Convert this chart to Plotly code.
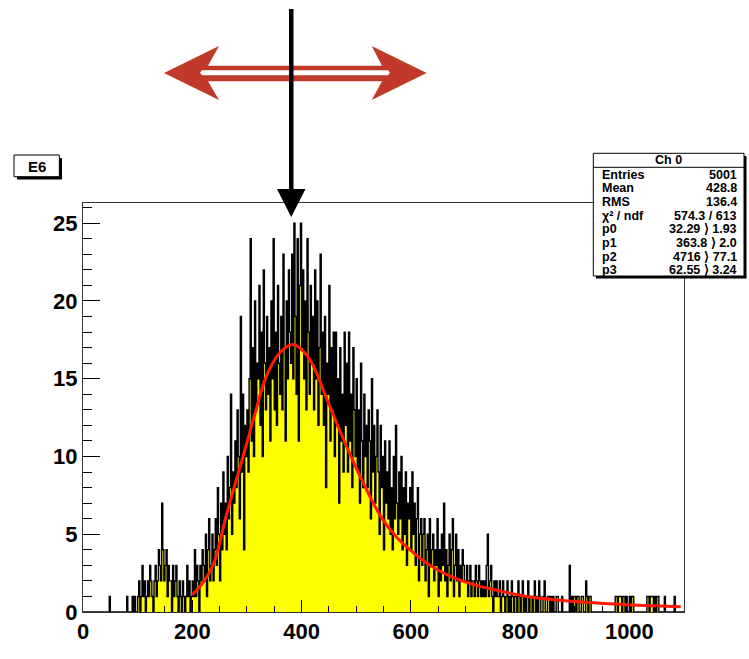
import numpy as np
import plotly.graph_objects as go

# ---------------- data ----------------
bin_width = 2
x_min, x_max = 0, 1100
counts = [
    0,0,0,0,0,0,0,0,0,0,   0,0,0,0,0,0,0,0,0,0,
    0,0,0,0,1,0,0,0,0,0,   0,0,0,0,0,0,0,0,0,0,
    1,0,0,0,0,1,0,1,0,0,   1,2,0,1,3,1,2,0,1,2,
    1,3,2,1,0,2,3,1,2,4,   3,2,7,4,2,3,4,1,3,2,
    2,0,3,1,2,3,1,0,2,1,   0,2,1,0,1,3,1,2,0,1,
    2,1,4,1,3,2,0,3,2,4,   3,2,5,1,4,6,2,3,5,2,
    4,6,3,8,5,2,7,4,9,5,   7,4,10,6,8,14,5,9,7,11,
    8,13,10,6,19,9,14,4,12,10,   13,9,15,24,11,17,10,20,13,16,
    15,21,12,18,10,22,16,13,19,14,   17,11,20,15,24,13,18,12,21,16,
    14,19,13,23,17,11,20,15,22,18,   16,23,15,25,19,14,24,11,21,25,
    17,22,15,20,13,24,18,14,21,16,   19,13,22,15,20,12,17,23,14,18,
    12,19,8,16,14,21,11,17,13,18,   10,18,12,15,7,17,11,14,9,18,
    12,16,9,18,11,14,8,17,13,10,   15,9,13,7,16,11,8,14,10,12,
    8,13,11,6,15,9,12,7,10,13,   9,5,12,8,10,4,11,7,9,6,
    11,5,8,4,10,6,12,7,5,9,   6,10,4,8,5,9,3,7,6,8,
    4,9,5,7,3,6,8,2,5,6,   3,5,6,2,4,5,1,6,3,4,
    5,2,4,3,6,1,4,2,5,3,   7,2,4,1,3,5,2,4,6,1,
    3,5,2,4,1,3,2,4,3,2,   2,3,1,2,3,1,2,2,1,3,
    2,1,3,2,1,2,1,2,1,3,   5,1,2,3,1,0,2,1,2,1,
    1,2,0,1,2,1,0,1,2,0,   1,0,2,1,0,1,1,0,2,1,
    0,1,2,0,1,0,1,2,0,1,   1,0,1,2,0,1,0,2,1,0,
    0,1,2,0,0,1,1,0,1,0,   1,0,0,1,1,0,0,0,1,0,
    0,0,0,0,0,3,0,1,0,1,   1,0,1,1,0,0,1,1,0,0,
    2,1,0,1,1,0,0,0,0,0,   0,0,0,0,0,0,0,0,0,0,
    0,0,0,0,0,0,0,1,1,0,   1,1,1,0,1,1,0,1,0,0,
    1,0,1,1,0,0,0,0,0,0,   0,0,0,0,0,0,1,1,0,1,
    1,1,0,1,0,1,1,0,0,0,   0,0,1,0,0,0,0,0,0,0,
    0,1,0,0,0,0,0,0,0,0,
]

fit_x = [200, 220, 239, 263, 288, 312, 336, 361, 385, 410, 422, 452, 483, 513,
         544, 574, 605, 635, 666, 690, 727, 751, 812, 873, 934, 995, 1056, 1094]
fit_y = [1.1, 1.9, 3.1, 6.3, 9.4, 12.4, 15.2, 16.7, 17.2, 16.5, 15.8, 13.2, 10.6, 8.3,
         6.2, 4.8, 3.8, 3.0, 2.4, 2.05, 1.65, 1.45, 1.0, 0.76, 0.59, 0.47, 0.38, 0.33]

x_ticks = [0, 200, 400, 600, 800, 1000]
y_ticks = [0, 5, 10, 15, 20, 25]

stats_title = "Ch 0"
stats_labels = ["Entries", "Mean", "RMS", "χ² / ndf", "p0", "p1", "p2", "p3"]
stats_values = ["5001", "428.8", "136.4", "574.3 / 613",
                "32.29 ⟩ 1.93", "363.8 ⟩ 2.0", "4716 ⟩ 77.1", "62.55 ⟩ 3.24"]
hist_title = "E6"

# ---------------- geometry helpers ----------------
W, H = 749, 659
L, R, T, B = 83, 684, 203, 612


def px(x):
    return (x - L) / (R - L)


def py(y):
    return (B - y) / (B - T)


def path(points):
    s = "M %f,%f " % (px(points[0][0]), py(points[0][1]))
    for p in points[1:]:
        s += "L %f,%f " % (px(p[0]), py(p[1]))
    return s + "Z"


# ---------------- traces ----------------
edges = np.arange(x_min, x_max + bin_width, bin_width)
hx = list(edges[:len(counts)]) + [edges[len(counts)]]
hy = counts + [counts[-1]]

fig = go.Figure()
fig.add_trace(go.Scatter(
    x=hx, y=hy, mode="lines",
    line=dict(shape="hv", color="black", width=1.4),
    fill="tozeroy", fillcolor="#ffff00", hoverinfo="skip", showlegend=False))
fig.add_trace(go.Scatter(
    x=fit_x, y=fit_y, mode="lines",
    line=dict(color="#ff1a00", width=3, shape="spline", smoothing=1.0),
    hoverinfo="skip", showlegend=False))

font_family = "Liberation Sans, Arial, sans-serif"

fig.update_layout(
    width=W, height=H,
    margin=dict(l=L, r=W - R, t=T, b=H - B),
    paper_bgcolor="white", plot_bgcolor="white",
    showlegend=False,
    font=dict(family=font_family, color="black"),
    xaxis=dict(range=[x_min, x_max], tickvals=x_ticks,
               ticks="inside", ticklen=12, tickwidth=1, tickcolor="black",
               minor=dict(dtick=50, ticks="inside", ticklen=6, tickcolor="black"),
               showline=True, linecolor="#333333", linewidth=1, mirror=True,
               showgrid=False, zeroline=False,
               tickfont=dict(size=22, weight="bold", family=font_family)),
    yaxis=dict(range=[0, 26.3], tickvals=y_ticks,
               ticks="inside", ticklen=17, tickwidth=1, tickcolor="black",
               minor=dict(dtick=1, ticks="inside", ticklen=9, tickcolor="black"),
               showline=True, linecolor="#333333", linewidth=1, mirror=True,
               showgrid=False, zeroline=False,
               tickfont=dict(size=22, weight="bold", family=font_family)),
)

shapes = []
# red double arrow
red = "#c0392b"
shapes.append(dict(type="path", xref="paper", yref="paper", layer="above",
                   path=path([(164, 73), (219, 46), (208, 65.7), (382, 65.7), (371.7, 46),
                              (426.7, 73), (371.7, 100), (382, 81.3), (208, 81.3), (219, 100)]),
                   fillcolor=red, line=dict(width=0)))
shapes.append(dict(type="path", xref="paper", yref="paper", layer="above",
                   path=path([(202, 70.3), (388, 70.3), (390, 72.7), (388, 75.3), (202, 75.3), (200, 72.7)]),
                   fillcolor="white", line=dict(width=0)))
# black vertical arrow
shapes.append(dict(type="path", xref="paper", yref="paper", layer="above",
                   path=path([(289, 9), (293.5, 9), (293.5, 192), (289, 192)]),
                   fillcolor="black", line=dict(width=0)))
shapes.append(dict(type="path", xref="paper", yref="paper", layer="above",
                   path=path([(277, 189), (305.5, 189), (291.2, 217)]),
                   fillcolor="black", line=dict(width=0)))
# E6 title box with shadow
shapes.append(dict(type="rect", xref="paper", yref="paper", layer="above",
                   x0=px(17), x1=px(62), y0=py(179.5), y1=py(158),
                   fillcolor="black", line=dict(width=0)))
shapes.append(dict(type="rect", xref="paper", yref="paper", layer="above",
                   x0=px(14), x1=px(59.3), y0=py(176.7), y1=py(155),
                   fillcolor="white", line=dict(color="black", width=1)))
# stats box with shadow
shapes.append(dict(type="rect", xref="paper", yref="paper", layer="above",
                   x0=px(596), x1=px(746.5), y0=py(278.5), y1=py(156),
                   fillcolor="black", line=dict(width=0)))
shapes.append(dict(type="rect", xref="paper", yref="paper", layer="above",
                   x0=px(593.3), x1=px(744), y0=py(276), y1=py(153.3),
                   fillcolor="white", line=dict(color="black", width=1)))
shapes.append(dict(type="line", xref="paper", yref="paper", layer="above",
                   x0=px(593.3), x1=px(744), y0=py(167.3), y1=py(167.3),
                   line=dict(color="black", width=1)))
fig.update_layout(shapes=shapes)

ann = []
ann.append(dict(text=hist_title, x=px(36.7), y=py(166), xref="paper", yref="paper",
                showarrow=False, xanchor="center", yanchor="middle",
                font=dict(size=15, weight="bold", family=font_family)))
ann.append(dict(text=stats_title, x=px(668.7), y=py(160.5), xref="paper", yref="paper",
                showarrow=False, xanchor="center", yanchor="middle",
                font=dict(size=12.5, weight="bold", family=font_family)))
row_y = [175, 188.3, 202.3, 216, 229.3, 243.3, 256.7, 269.5]
for lab, val, yy in zip(stats_labels, stats_values, row_y):
    ann.append(dict(text=lab, x=px(600), y=py(yy), xref="paper", yref="paper",
                    showarrow=False, xanchor="left", yanchor="middle",
                    font=dict(size=12.5, weight="bold", family=font_family)))
    ann.append(dict(text=val, x=px(739), y=py(yy), xref="paper", yref="paper",
                    showarrow=False, xanchor="right", yanchor="middle",
                    font=dict(size=12.5, weight="bold", family=font_family)))
fig.update_layout(annotations=ann)

fig.write_html("out.html")
